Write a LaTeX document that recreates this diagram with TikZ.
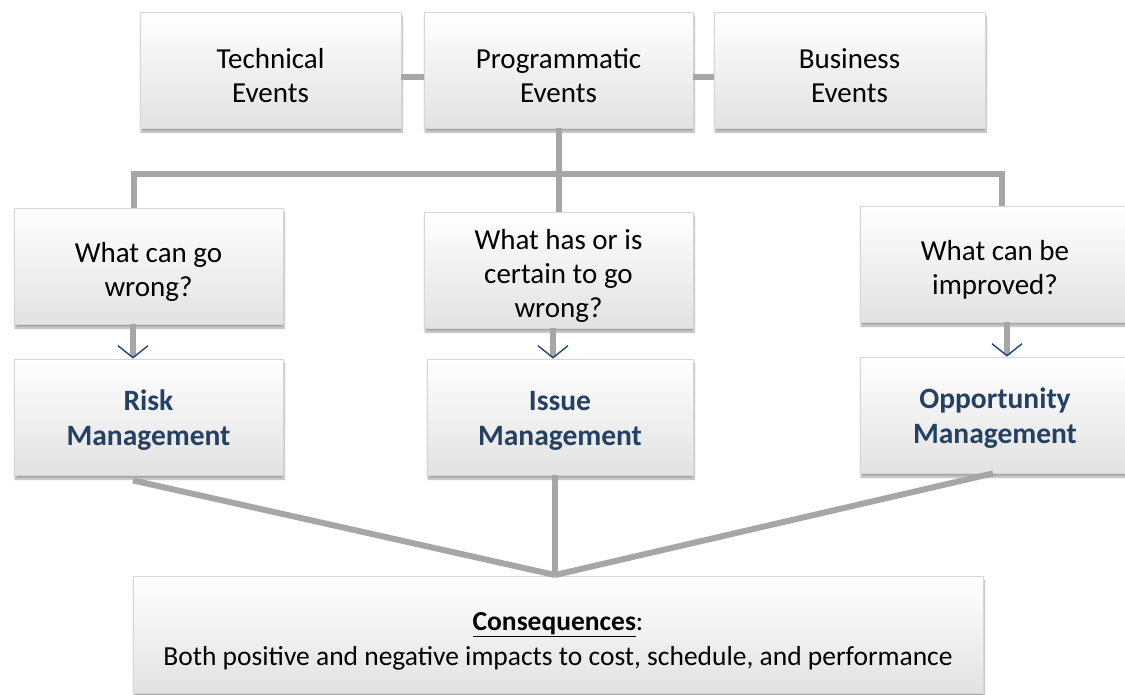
\documentclass[tikz,border=0pt]{standalone}
\usepackage{fontspec}
\setmainfont{Carlito}
\usepackage{tikz}
\usetikzlibrary{positioning,calc,arrows.meta,shadows.blur}
\definecolor{LinkGray}{RGB}{166,166,166}
\definecolor{BoxLine}{RGB}{214,214,214}
\definecolor{BoxBottom}{RGB}{226,226,226}
\definecolor{MgmtBlue}{RGB}{36,64,98}
\definecolor{TipBlue}{RGB}{31,73,125}
\newcommand{\lowtext}{\rule{0pt}{32pt}}

\begin{document}
\begin{tikzpicture}[x=1pt,y=-1pt]
	\tikzset{
		box/.style={rectangle, draw=BoxLine, line width=0.8pt, top color=white, bottom color=BoxBottom,
			minimum height=116pt, inner sep=2pt, align=center, font=\fontsize{29}{34}\selectfont,
			blur shadow={shadow xshift=1pt, shadow yshift=-4pt, shadow blur steps=8, shadow opacity=35}},
		mgmt/.style={box, text=MgmtBlue, font=\fontsize{29.5}{35}\selectfont\bfseries},
		link/.style={draw=LinkGray, line width=6pt},
		down/.style={link, -{Straight Barb[color=TipBlue, line width=1.4pt, length=12pt, width=30pt]}}
	}
	\useasboundingbox (0,0) rectangle (1125,694);
	
	% ======= Events =======
	\node[box, minimum width=261pt] (tech) at (270.5,70) {\lowtext Technical\\Events};
	\node[box, minimum width=269pt] (prog) at (558.5,70) {\lowtext Programmatic\\Events};
	\node[box, minimum width=271pt] (bus)  at (849.5,70) {\lowtext Business\\Events};
	
	% ======= Questions =======
	\node[box, minimum width=269pt] (q1) at (148.5,266) {\lowtext What can go\\wrong?};
	\node[box, minimum width=269pt] (q2) at (558.5,270) {\lowtext What has or is\\certain to go\\wrong?};
	\node[box, minimum width=270pt] (q3) at (995,264) {\lowtext What can be\\improved?};
	
	% ======= Management =======
	\node[mgmt, minimum width=269pt] (risk)  at (148.5,417) {\rule{0pt}{26pt}Risk\\Management};
	\node[mgmt, minimum width=266pt] (issue) at (560,417) {\rule{0pt}{26pt}Issue\\Management};
	\node[mgmt, minimum width=270pt] (opp)   at (995,415) {\rule{0pt}{26pt}Opportunity\\Management};
	
	% ======= Consequences =======
	\node[box, minimum width=850pt, minimum height=117pt, font=\fontsize{27.5}{35}\selectfont] (cons) at (558,634.5)
		{\lowtext\underline{\textbf{Consequences}}:\\Both positive and negative impacts to cost, schedule, and performance};
	
	% ======= Column coordinates =======
	\coordinate (barL) at (134,174);
	\coordinate (barR) at (1002,174);
	\coordinate (c1) at (133,0);
	\coordinate (c2) at (553,0);
	\coordinate (c3) at (1007,0);
	\coordinate (meet) at (555,575);
	
	% ======= Links =======
	\draw[link] ([yshift=-7pt]tech.east) -- ([yshift=-7pt]prog.west);
	\draw[link] ([yshift=-7pt]prog.east) -- ([yshift=-7pt]bus.west);
	\draw[link] (prog) -- (q2);
	\draw[link] (q1.north -| barL) |- (barR) -- (q3.north -| barR);
	
	\draw[down] (q1.south -| c1) -- (risk.north -| c1);
	\draw[down] (q2.south -| c2) -- (issue.north -| c2);
	\draw[down] (q3.south -| c3) -- (opp.north -| c3);
	
	\draw[link] ([yshift=-5pt]risk.south -| c1) -- (meet);
	\draw[link] (issue.south -| meet) -- (meet);
	\draw[link] (opp.south -| 993,0) -- (meet);
\end{tikzpicture}
\end{document}
